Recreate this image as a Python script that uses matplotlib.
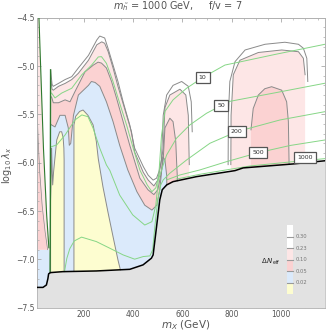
import matplotlib
matplotlib.use("Agg")
import matplotlib.pyplot as plt
from matplotlib.patches import Rectangle
from matplotlib.ticker import MultipleLocator

# ---------------- data ----------------
x_range = [10, 1180]
y_range = [-7.5, -4.5]
x_ticks = [200, 400, 600, 800, 1000]
y_ticks = [-7.5, -7.0, -6.5, -6.0, -5.5, -5.0, -4.5]

# lower excluded region boundary (black line)
bound_m = [10, 33, 47, 53, 56, 63, 114, 250, 386, 440, 474, 481, 495, 508, 518, 536, 562, 658, 814, 847, 1050, 1180]
bound_l = [-7.29, -7.29, -7.265, -7.20, -7.15, -7.137, -7.127, -7.12, -7.103, -7.057, -6.988, -6.954,
           -6.661, -6.385, -6.28, -6.23, -6.196, -6.144, -6.082, -6.054, -6.013, -5.98]

# Delta N_eff = 0.30 contour (main structure)
c30_m = [63.5, 64, 70, 75, 96, 123, 150, 177, 218, 252, 264, 284, 298, 318, 338, 359, 386, 406, 441, 461,
         481, 495, 505, 515, 522, 536, 562, 597, 624, 636, 640, 640]
c30_l = [-7.5, -5.04, -5.19, -5.21, -5.18, -5.14, -5.11, -5.02, -4.89, -4.73, -4.69, -4.71, -4.82, -4.99,
         -5.16, -5.37, -5.61, -5.85, -6.04, -6.13, -6.18, -6.16, -6.09, -5.97, -5.51, -5.30, -5.20, -5.16,
         -5.21, -5.37, -5.68, -7.5]
# 0.23 contour
c23_m = [63.5, 66, 70, 75, 96, 123, 150, 177, 218, 252, 272, 284, 298, 318, 338, 365, 393, 406, 441, 461,
         484, 500, 512, 522, 529, 549, 590, 614, 624, 628, 628]
c23_l = [-7.5, -5.16, -5.24, -5.25, -5.21, -5.18, -5.14, -5.075, -4.94, -4.78, -4.75, -4.765, -4.85, -5.02,
         -5.21, -5.44, -5.68, -5.89, -6.10, -6.18, -6.24, -6.18, -6.02, -5.85, -5.43, -5.30, -5.24, -5.30,
         -5.51, -6.02, -7.5]
# 0.10 contour
c10_m = [63.5, 68, 75, 96, 123, 143, 163, 204, 238, 257, 271, 291, 312, 332, 359, 386, 427, 460, 484, 500,
         512, 522, 529, 549, 562, 573, 577, 581, 581]
c10_l = [-7.5, -5.32, -5.38, -5.38, -5.35, -5.37, -5.265, -5.06, -4.99, -4.96, -4.97, -5.02, -5.16, -5.33,
         -5.575, -5.82, -6.16, -6.28, -6.33, -6.28, -6.13, -5.97, -5.64, -5.54, -5.575, -5.78, -6.02, -6.23, -7.5]
# 0.05 contour
c05_m = [63.5, 64, 68, 82, 102, 123, 136, 140, 146, 157, 177, 218, 230, 245, 264, 291, 318, 345, 378, 415,
         447, 476, 496, 508, 516, 520, 529, 536, 537, 537]
c05_l = [-7.5, -5.60, -5.61, -5.63, -5.51, -5.51, -5.64, -5.82, -5.80, -5.51, -5.30, -5.20, -5.16, -5.17,
         -5.21, -5.37, -5.575, -5.82, -6.075, -6.30, -6.44, -6.49, -6.44, -6.28, -6.075, -5.94, -5.97, -6.13,
         -6.28, -7.5]
# 0.02 contours (two yellow islands)
ya_m = [64, 64, 66, 68, 70, 72.5, 76, 81, 89, 101, 109, 115, 118, 119, 119]
ya_l = [-7.5, -6.4, -6.2, -5.85, -6.05, -6.23, -6.10, -5.97, -5.765, -5.68, -5.68, -5.74, -5.85, -5.97, -7.5]
yb_m = [159, 159, 166, 182, 196, 216, 237, 250, 258, 277, 298, 318, 338, 348, 352]
yb_l = [-7.5, -5.61, -5.52, -5.47, -5.455, -5.51, -5.61, -5.78, -5.96, -6.25, -6.52, -6.765, -7.006, -7.11, -7.5]

# right island
h30_m = [786, 786, 787, 793, 814, 855, 936, 1017, 1072, 1092, 1106, 1110, 1110]
h30_l = [-7.5, -6.02, -5.51, -5.16, -4.955, -4.834, -4.775, -4.754, -4.775, -4.816, -4.92, -5.16, -7.5]
h23_m = [797, 797, 798, 807, 834, 909, 1004, 1072, 1092, 1099, 1099]
h23_l = [-7.5, -6.02, -5.51, -5.09, -4.94, -4.86, -4.834, -4.852, -4.92, -5.09, -7.5]
h10_m = [879, 879, 888, 909, 935, 963, 1004, 1024, 1031, 1034, 1034]
h10_l = [-7.5, -5.66, -5.44, -5.30, -5.235, -5.214, -5.25, -5.37, -5.575, -6.02, -7.5]

# left spike
sp_m = [10, 16.7, 21, 35, 48, 57, 58, 10]
sp_l = [-4.5, -4.5, -4.82, -5.85, -6.54, -6.85, -6.9, -6.9]
sp2_m = [10, 14, 20, 30, 42, 52, 10]
sp2_l = [-5.5, -5.8, -6.1, -6.45, -6.72, -6.9, -6.9]
blue_corner_m = [10, 58, 62, 64, 64, 10]
blue_corner_l = [-6.9, -6.9, -6.95, -6.95, -7.5, -7.5]
spike_line_m = [16.7, 21, 35, 48, 57]
spike_line_l = [-4.5, -4.82, -5.85, -6.54, -6.88]
dark_m = [64, 63.5, 63, 62]
dark_l = [-5.04, -5.6, -6.5, -7.13]

# green contours (labelled 10, 50, 200, 500, 1000)
g10_m = [68, 82, 109, 150, 191, 231, 258, 271, 291, 318, 345, 373, 400, 427, 457, 476, 492, 504, 515, 529,
         562, 617, 682, 773, 848, 977, 1180]
g10_l = [-5.28, -5.33, -5.28, -5.23, -5.09, -4.99, -4.906, -4.903, -4.972, -5.162, -5.385, -5.61, -5.85,
         -6.075, -6.23, -6.30, -6.26, -6.13, -5.72, -5.47, -5.35, -5.23, -5.12, -4.99, -4.95, -4.88, -4.775]
g50_m = [68, 89, 123, 163, 191, 216, 237, 264, 291, 305, 345, 398, 447, 476, 492, 502, 522, 536, 576, 630,
         698, 757, 773, 977, 1180]
g50_l = [-5.834, -5.816, -5.713, -5.558, -5.506, -5.524, -5.644, -5.85, -6.023, -6.08, -6.335, -6.54, -6.645,
         -6.61, -6.44, -6.18, -6.023, -5.92, -5.747, -5.61, -5.489, -5.41, -5.375, -5.277, -5.178]
g200_m = [121, 130, 142, 160, 190, 250, 305, 359, 406, 441, 468, 479, 488, 500, 512, 522, 549, 617, 712, 821,
          997, 1180]
g200_l = [-7.12, -6.99, -6.89, -6.81, -6.77, -6.816, -6.885, -6.954, -6.998, -6.971, -6.964, -6.902, -6.661,
          -6.385, -6.23, -6.178, -6.109, -5.972, -5.799, -5.679, -5.558, -5.472]
g500_m = [536, 590, 671, 780, 909, 1038, 1180]
g500_l = [-6.178, -6.127, -6.075, -5.989, -5.896, -5.822, -5.765]
g1000_m = [575, 671, 875, 1079, 1180]
g1000_l = [-6.17, -6.12, -6.034, -5.982, -5.958]

label_text = ["10", "50", "200", "500", "1000"]
label_m = [682, 757, 821, 909, 1100]
label_l = [-5.116, -5.41, -5.679, -5.896, -5.944]

legend_levels = ["0.30", "0.23", "0.10", "0.05", "0.02"]

# ---------------- style ----------------
C_LPINK = "#fde6e6"
C_PINK = "#fbd2d2"
C_BLUE = "#dbeafb"
C_YELL = "#fdfdd0"
C_GREY = "#e2e2e2"
C_LINE = "#8a8a8a"
C_GREEN = "#86d686"
C_DGREEN = "#2f7a2f"
legend_colors = ["white", "white", C_LPINK, C_PINK, C_BLUE, C_YELL]

fig = plt.figure(figsize=(3.27, 3.35), dpi=100)
ax = fig.add_axes([0.1141, 0.0815, 0.8798, 0.8657])
ax.set_xlim(*x_range)
ax.set_ylim(*y_range)

# fills
ax.fill(blue_corner_m, blue_corner_l, color=C_BLUE, lw=0, zorder=1)
ax.fill(sp_m, sp_l, color=C_LPINK, lw=0, zorder=1)
ax.fill(sp2_m, sp2_l, color=C_PINK, lw=0, zorder=1)
ax.fill(c23_m, c23_l, color=C_LPINK, lw=0, zorder=1)
ax.fill(c10_m, c10_l, color=C_PINK, lw=0, zorder=1)
ax.fill(c05_m, c05_l, color=C_BLUE, lw=0, zorder=1)
ax.fill(ya_m, ya_l, color=C_YELL, lw=0, zorder=1)
ax.fill(yb_m, yb_l, color=C_YELL, lw=0, zorder=1)
ax.fill(h23_m, h23_l, color=C_LPINK, lw=0, zorder=1)
ax.fill(h10_m, h10_l, color=C_PINK, lw=0, zorder=1)

# contour lines
for mm, ll in [(c30_m, c30_l), (c23_m, c23_l), (c10_m, c10_l), (c05_m, c05_l),
               (h30_m, h30_l), (h23_m, h23_l), (h10_m, h10_l)]:
    ax.plot(mm[1:-1], ll[1:-1], color=C_LINE, lw=0.7, zorder=2)
for mm, ll in [(ya_m, ya_l), (yb_m, yb_l)]:
    ax.plot(mm, ll, color=C_LINE, lw=0.7, zorder=2)
ax.plot(sp2_m[:-1], sp2_l[:-1], color=C_LINE, lw=0.5, zorder=2)

# green lines
for mm, ll in [(g10_m, g10_l), (g50_m, g50_l), (g200_m, g200_l), (g500_m, g500_l), (g1000_m, g1000_l)]:
    ax.plot(mm, ll, color=C_GREEN, lw=0.7, zorder=3)
ax.plot(spike_line_m, spike_line_l, color=C_DGREEN, lw=0.8, zorder=3)
ax.plot(dark_m, dark_l, color=C_DGREEN, lw=1.0, zorder=3)

# excluded region
ax.fill_between(bound_m, bound_l, y_range[0], color=C_GREY, lw=0, zorder=4)
ax.plot(bound_m, bound_l, color="black", lw=1.1, zorder=5)

# contour labels
for t, mm, ll in zip(label_text, label_m, label_l):
    ax.text(mm, ll, t, fontsize=4.5, ha="center", va="center", color="#333", zorder=6,
            bbox=dict(boxstyle="square,pad=0.5", fc="white", ec="#555", lw=0.9))

# legend
seg = (0.285 - 0.047) / 6
for i, col in enumerate(legend_colors):
    ax.add_patch(Rectangle((0.867, 0.285 - (i + 1) * seg), 0.023, seg, transform=ax.transAxes,
                           fc=col, ec="none", zorder=7))
for i, lab in enumerate(legend_levels):
    yy = 0.285 - (i + 1) * seg
    ax.plot([0.867, 0.890], [yy, yy], transform=ax.transAxes, color="#999", lw=0.8, zorder=8)
    ax.text(0.899, yy, lab, transform=ax.transAxes, fontsize=3.8, color="#777", va="center", ha="left", zorder=8)
ax.text(0.845, 0.157, r"$\Delta\,N_{\mathrm{eff}}$", transform=ax.transAxes, fontsize=5, ha="right",
        va="center", color="#222", zorder=8)

# axes styling
ax.set_xticks(x_ticks)
ax.set_yticks(y_ticks)
ax.xaxis.set_minor_locator(MultipleLocator(50))
ax.yaxis.set_minor_locator(MultipleLocator(0.1))
ax.tick_params(which="both", direction="in", top=True, right=True, color="#aaa", labelcolor="#555",
               labelsize=5.5, pad=2)
ax.tick_params(which="major", length=3, width=0.6)
ax.tick_params(which="minor", length=1.5, width=0.5)
for s in ax.spines.values():
    s.set_color("#b0b0b0")
    s.set_linewidth(0.7)

fig.text(0.545, 0.981, r"$m_{\tilde{h}}$ = 1000 GeV,     f/v = 7", fontsize=7, color="#555",
         ha="center", va="center")
fig.text(0.569, 0.028, r"$m_X$ (GeV)", fontsize=7.5, color="#555", ha="center", va="center")
fig.text(0.021, 0.507, r"$\log_{10}\lambda_x$", fontsize=7, color="#555", ha="center", va="center",
         rotation=90)

fig.savefig("out.png", dpi=100)
